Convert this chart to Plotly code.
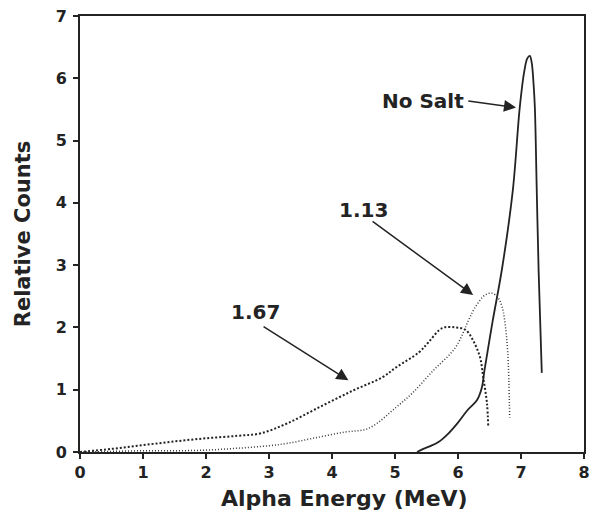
import plotly.graph_objects as go

# --- data ---
nosalt_x = [5.35, 5.45, 5.55, 5.69, 5.85, 5.99, 6.15, 6.30, 6.38, 6.42, 6.55, 6.70, 6.87, 6.98, 7.05, 7.10, 7.14, 7.17, 7.20, 7.22, 7.25, 7.28, 7.33]
nosalt_y = [0.0, 0.05, 0.09, 0.16, 0.30, 0.46, 0.67, 0.83, 1.04, 1.31, 2.10, 2.95, 4.20, 5.53, 6.10, 6.32, 6.36, 6.25, 5.90, 5.53, 4.20, 2.90, 1.27]

s113_x = [0, 0.5, 1.0, 1.5, 2.0, 2.5, 3.0, 3.3, 3.7, 4.2, 4.58, 5.02, 5.28, 5.6, 5.96, 6.17, 6.27, 6.43, 6.54, 6.64, 6.70, 6.74, 6.79, 6.82]
s113_y = [0, 0.01, 0.02, 0.02, 0.03, 0.06, 0.10, 0.14, 0.22, 0.32, 0.38, 0.72, 0.95, 1.30, 1.68, 2.12, 2.32, 2.52, 2.55, 2.47, 2.33, 2.12, 1.59, 0.55]

s167_x = [0, 0.5, 1.0, 1.5, 2.0, 2.5, 2.87, 3.29, 3.8, 4.34, 4.8, 5.02, 5.38, 5.53, 5.75, 5.96, 6.12, 6.24, 6.35, 6.40, 6.46, 6.48]
s167_y = [0, 0.05, 0.11, 0.17, 0.22, 0.26, 0.30, 0.46, 0.72, 0.99, 1.20, 1.36, 1.60, 1.76, 1.99, 2.00, 1.96, 1.79, 1.52, 1.20, 0.78, 0.40]

x_ticks = [0, 1, 2, 3, 4, 5, 6, 7, 8]
y_ticks = [0, 1, 2, 3, 4, 5, 6, 7]

INK = "#232323"
FONT = "DejaVu Sans, Liberation Sans, Arial, sans-serif"

fig = go.Figure()
fig.add_trace(go.Scatter(x=nosalt_x, y=nosalt_y, mode="lines",
                         line=dict(color=INK, width=1.8), line_shape="spline",
                         hoverinfo="skip"))
fig.add_trace(go.Scatter(x=s113_x, y=s113_y, mode="lines",
                         line=dict(color="#3a3a3a", width=1.5, dash="1px,2px"), line_shape="spline",
                         hoverinfo="skip"))
fig.add_trace(go.Scatter(x=s167_x, y=s167_y, mode="lines",
                         line=dict(color=INK, width=2.0, dash="2px,2px"), line_shape="spline",
                         hoverinfo="skip"))

txt = dict(family=FONT, size=20, color=INK, weight="bold")
ann = [
    dict(x=5.44, y=5.64, text="No Salt", showarrow=False, font=txt),
    dict(x=4.5, y=3.88, text="1.13", showarrow=False, font=txt),
    dict(x=2.78, y=2.24, text="1.67", showarrow=False, font=txt),
    # x-axis title (placed as annotation to match the slightly right-shifted original)
    dict(x=0.525, y=0, xref="paper", yref="paper", xanchor="center", yanchor="top",
         yshift=-32, text="Alpha Energy (MeV)", showarrow=False,
         font=dict(family=FONT, size=22, color=INK, weight="bold")),
]
arrows = [((6.14, 5.64), (6.92, 5.53)), ((4.62, 3.72), (6.24, 2.52)), ((2.89, 2.03), (4.26, 1.15))]
for (x0, y0), (x1, y1) in arrows:
    ann.append(dict(x=x1, y=y1, ax=x0, ay=y0, xref="x", yref="y", axref="x", ayref="y",
                    text="", showarrow=True, arrowhead=2, arrowsize=1.6, arrowwidth=1.5,
                    arrowcolor=INK))

axis_common = dict(showline=True, linecolor=INK, linewidth=2, mirror=True,
                   ticks="outside", ticklen=5, tickwidth=1.5, tickcolor=INK,
                   showgrid=False, zeroline=False,
                   tickfont=dict(family=FONT, size=16, color=INK, weight="bold"))

fig.update_layout(
    width=597, height=517,
    margin=dict(l=80, r=7, t=15, b=65),
    paper_bgcolor="white", plot_bgcolor="white",
    showlegend=False,
    annotations=ann,
    xaxis=dict(range=[0, 8], tickvals=x_ticks, **axis_common),
    yaxis=dict(range=[0, 7], tickvals=y_ticks, ticklabelstandoff=3,
               title=dict(text="Relative Counts", standoff=19,
                          font=dict(family=FONT, size=21, color=INK, weight="bold")),
               **axis_common),
)

fig.write_html("out.html")
